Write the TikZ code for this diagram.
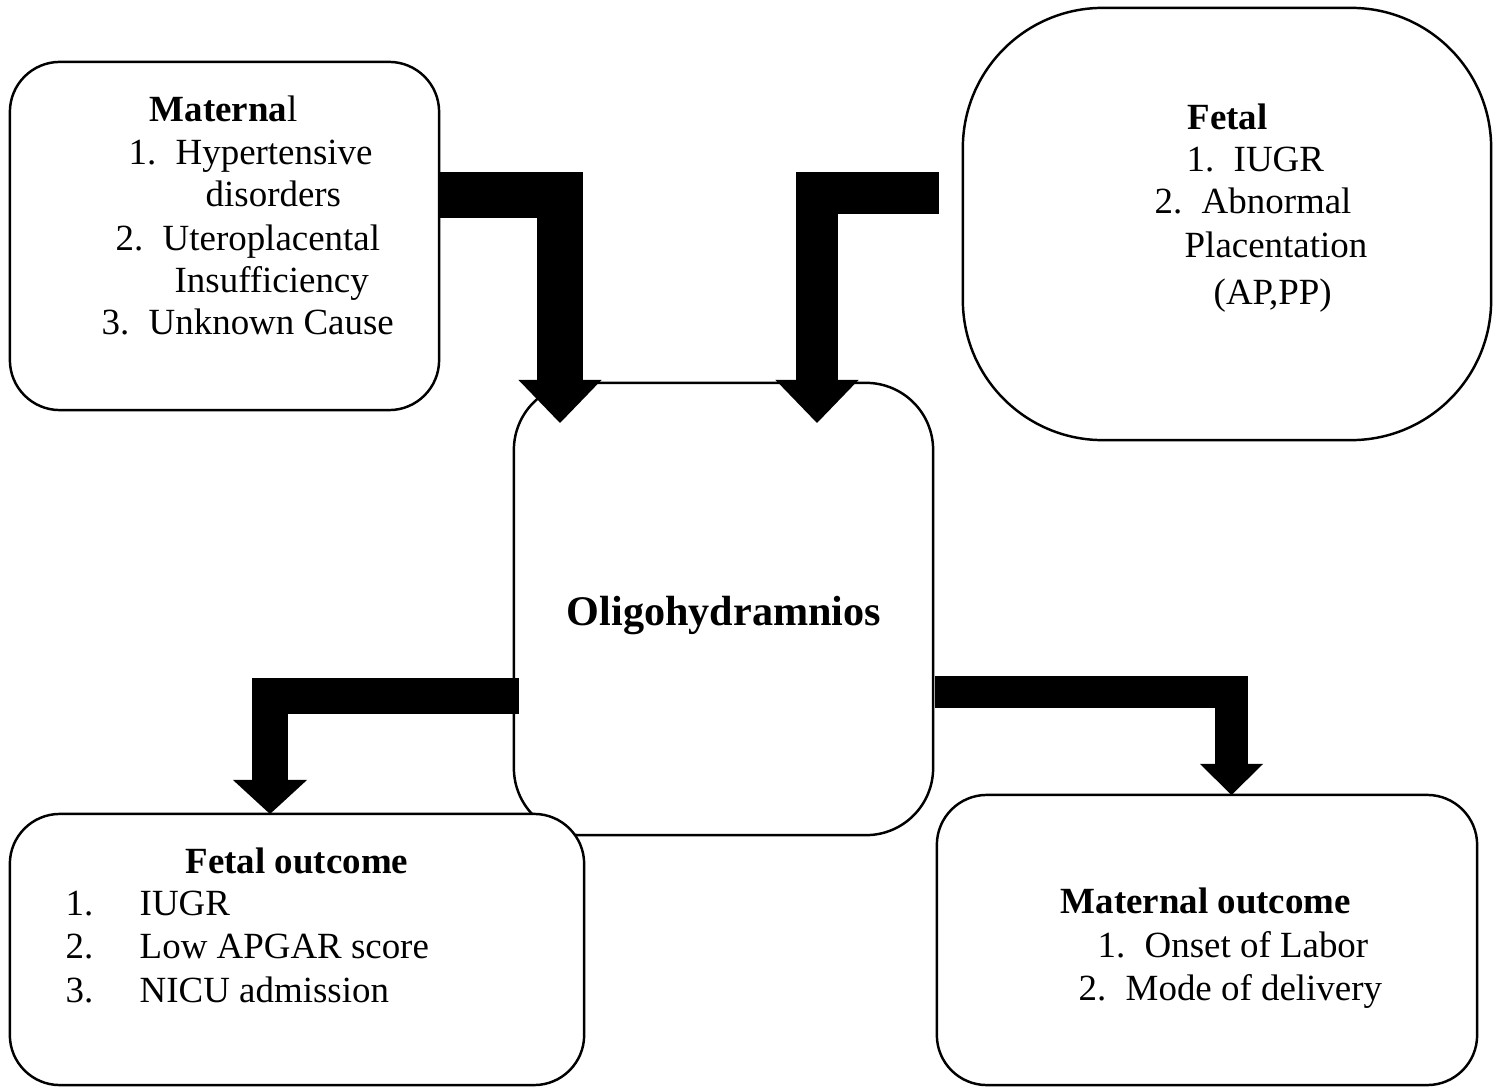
\documentclass[tikz,border=0pt]{standalone}
\usepackage{fontspec}
\setmainfont{Liberation Serif}
\usetikzlibrary{arrows.meta, positioning}

\newcommand{\lnum}[2][0.47cm]{\makebox[#1][l]{#2}}

\tikzset{
    box/.style={draw, line width=0.7pt, fill=white, inner sep=0pt, rounded corners=#1},
    txt/.style={anchor=base west, inner sep=0pt, font=\fontsize{10.5}{12}\selectfont},
    fat/.style n args={3}{line width=#1, -{Triangle[width=#2, length=#3, line width=0pt]}}
}

\begin{document}
\begin{tikzpicture}[x=0.01cm, y=-0.01cm]
                        \useasboundingbox (0,0) rectangle (1499,1088);
                        % causes
                        \node[box=0.5cm, minimum width=4.29cm, minimum height=3.48cm] (mat) at (224.5,236) {};
                        \node[txt] (mhead) at (149,122) {\textbf{Materna}l};
                        \node[txt] (m1) at (128,165) {\lnum{1.}Hypertensive};
                        \node[txt] (m1b) at (205,207) {disorders};
                        \node[txt] (m2) at (115,251) {\lnum{2.}Uteroplacental};
                        \node[txt] (m2b) at (174,293) {Insufficiency};
                        \node[txt] (m3) at (101,335) {\lnum{3.}Unknown Cause};
                        \node[box=1.4cm, minimum width=5.28cm, minimum height=4.32cm] (fet) at (1227,224) {};
                        \node[txt] (fhead) at (1187,130) {\textbf{Fetal}};
                        \node[txt] (f1) at (1186,172) {\lnum{1.}IUGR};
                        \node[txt] (f2) at (1154,214) {\lnum{2.}Abnormal};
                        \node[txt] (f2b) at (1184,258) {Placentation};
                        \node[txt] (f2c) at (1213,305) {(AP,PP)};
                        % centre
                        \node[box=0.67cm, minimum width=4.19cm, minimum height=4.52cm] (oligo) at (723.5,609) {};
                        \node[txt, anchor=base, font=\bfseries\fontsize{12}{14}\selectfont] (otitle) at (724,626) {Oligohydramnios};
                        % outcomes
                        \node[box=0.5cm, minimum width=5.74cm, minimum height=2.71cm] (fout) at (297,949.5) {};
                        \node[txt] (fohead) at (185,873) {\textbf{Fetal outcome}};
                        \node[txt] (fo1) at (65,915) {\lnum[0.74cm]{1.}IUGR};
                        \node[txt] (fo2) at (65,958) {\lnum[0.74cm]{2.}Low APGAR score};
                        \node[txt] (fo3) at (65,1002) {\lnum[0.74cm]{3.}NICU admission};
                        \node[box=0.5cm, minimum width=5.40cm, minimum height=2.90cm] (mout) at (1207,940) {};
                        \node[txt] (mohead) at (1060,913) {\textbf{Maternal outcome}};
                        \node[txt] (mo1) at (1097,957) {\lnum{1.}Onset of Labor};
                        \node[txt] (mo2) at (1078,1000) {\lnum{2.}Mode of delivery};
                        % block arrows
                        \coordinate (mbar) at (439,195);
                        \coordinate (mtip) at (560,423);
                        \coordinate (fbar) at (939,193);
                        \coordinate (ftip) at (817,423);
                        \coordinate (lbar) at (519,696);
                        \coordinate (ltip) at (270,814);
                        \coordinate (rbar) at (935,692);
                        \coordinate (rtip) at (1231.5,795);
                        \draw[fat={0.46cm}{0.83cm}{0.43cm}] (mbar) -| (mtip);
                        \draw[fat={0.42cm}{0.83cm}{0.43cm}] (fbar) -| (ftip);
                        \draw[fat={0.36cm}{0.74cm}{0.34cm}] (lbar) -| (ltip);
                        \draw[fat={0.32cm}{0.63cm}{0.31cm}] (rbar) -| (rtip);
                    \end{tikzpicture}
\end{document}
